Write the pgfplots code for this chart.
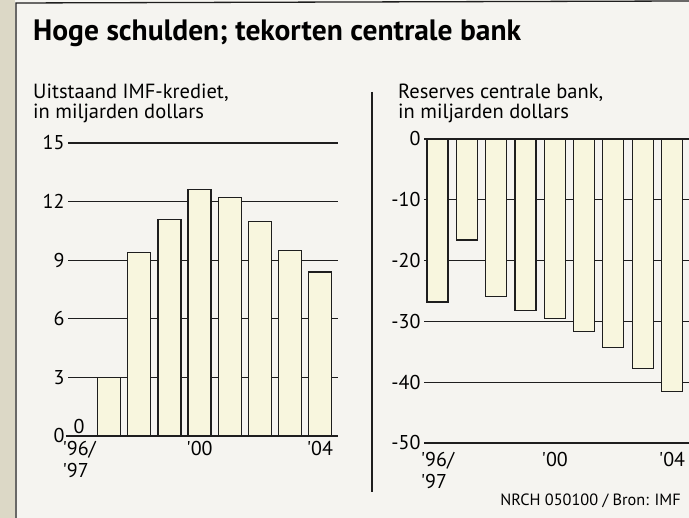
\documentclass[border=0pt]{standalone}
\usepackage{fontspec}
\setmainfont{PT Sans}
\newfontfamily\condfont{PT Sans}
\usepackage{pgfplots}
\pgfplotsset{compat=1.18}
\definecolor{bg}{HTML}{F5F4F0}
\definecolor{edge}{HTML}{DCD8C6}
\definecolor{barfill}{HTML}{F8F6DE}
\definecolor{ink}{HTML}{1E1E1E}

\pgfplotstableread{
x y
1 3.0
2 9.4
3 11.1
4 12.6
5 12.2
6 11.0
7 9.5
8 8.4
}\imftable

\pgfplotstableread{
x y
0 -26.8
1 -16.6
2 -25.9
3 -28.2
4 -29.5
5 -31.7
6 -34.3
7 -37.7
8 -41.5
}\restable

\pgfplotsset{
  nrcstyle/.style={
    scale only axis,
    anchor=south west,
    axis lines*=left,
    y axis line style={draw=none},
    x axis line style={draw=none},
    major tick length=0pt,
    ymajorgrids,
    grid style={ink, line width=1.1pt},
    xtick={0,4,8},
    xticklabels={{'96/\\'97},{'00},{'04}},
    yticklabel style={font=\condfont\fontsize{20}{20}\selectfont, anchor=east, xshift=0pt},
    /pgf/number format/assume math mode=true,
    clip=false,
  }
}

\begin{document}
\begin{tikzpicture}[x=1pt,y=1pt]
\fill[bg] (0,0) rectangle (689,518);
\path[use as bounding box] (0,0) rectangle (689,518);
\fill[edge] (0,0) rectangle (15,518);
\draw[ink, line width=1.3pt] (16,0) -- (16,515) -- (689,517);

\node[anchor=base west, inner sep=0pt, font=\condfont\bfseries\fontsize{29.5}{30}\selectfont] at (33,477) {Hoge schulden; tekorten centrale bank};

\node[anchor=base west, inner sep=0pt, font=\condfont\fontsize{20.5}{22}\selectfont] at (33,419) {Uitstaand IMF-krediet,};
\node[anchor=base west, inner sep=0pt, font=\condfont\fontsize{20.5}{22}\selectfont] at (33,399) {in miljarden dollars};
\node[anchor=base west, inner sep=0pt, font=\condfont\fontsize{20.5}{22}\selectfont] at (398,419) {Reserves centrale bank,};
\node[anchor=base west, inner sep=0pt, font=\condfont\fontsize{20.5}{22}\selectfont] at (398,399) {in miljarden dollars};

\draw[ink, line width=1.2pt] (372,426) -- (372,26);

\node[anchor=base east, inner sep=0pt, font=\condfont\fontsize{16.3}{17}\selectfont] at (681,12) {NRCH 050100 / Bron: IMF};

\begin{axis}[nrcstyle,
  at={(68pt,82pt)}, width=270pt, height=293pt,
  xmin=-0.37, xmax=8.6, ymin=0, ymax=15,
  ytick={0,3,6,9,12,15},
  xticklabel style={font=\condfont\fontsize{20}{22}\selectfont, align=left, anchor=north, yshift=-2pt},
]
\addplot[ybar, bar width=23pt, fill=barfill, draw=ink, line width=1.2pt] table[x=x,y=y] {\imftable};
\draw[ink, line width=1.2pt] (axis cs:-0.45,0) -- (axis cs:8.45,0);
\node[anchor=south, font=\condfont\fontsize{20}{20}\selectfont, inner sep=2pt] at (axis cs:0,0) {0};
\end{axis}

\begin{axis}[nrcstyle,
  at={(424pt,75pt)}, width=265pt, height=304pt,
  xmin=-0.46, xmax=8.58, ymin=-50, ymax=0,
  ytick={-50,-40,-30,-20,-10,0},
  yticklabels={-50,-40,-30,-20,-10,0},
  xticklabel style={font=\condfont\fontsize{20}{22}\selectfont, align=left, anchor=north, yshift=-6pt},
]
\addplot[ybar, bar width=21pt, fill=barfill, draw=ink, line width=1.2pt] table[x=x,y=y] {\restable};
\end{axis}
\end{tikzpicture}
\end{document}
